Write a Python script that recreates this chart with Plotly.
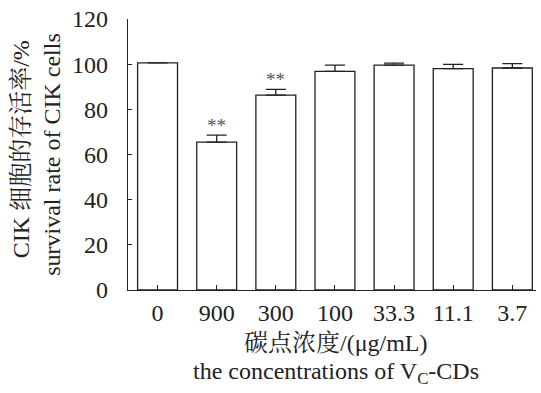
import plotly.graph_objects as go

categories = ["0", "900", "300", "100", "33.3", "11.1", "3.7"]
survival = [100.6, 65.5, 86.3, 96.8, 99.6, 98.0, 98.3]
errors_up = [0.0, 3.1, 2.5, 2.8, 0.9, 1.9, 1.9]
significance = ["", "**", "**", "", "", "", ""]

y_ticks = [0, 20, 40, 60, 80, 100, 120]

FONT = "Liberation Serif, 'Times New Roman', 'Noto Serif CJK SC', 'Noto Sans CJK SC', serif"

fig = go.Figure()
fig.add_trace(go.Bar(
    x=list(range(len(categories))),
    y=survival,
    width=0.675,
    marker=dict(color="white", line=dict(color="#222222", width=1.3)),
    error_y=dict(type="data", array=errors_up, arrayminus=[0] * len(errors_up),
                 symmetric=False, color="#222222", thickness=1.3, width=10),
    showlegend=False,
))

for i, s in enumerate(significance):
    if s:
        fig.add_annotation(x=i, y=survival[i] + errors_up[i], text=s, showarrow=False,
                           yanchor="bottom", yshift=-3,
                           font=dict(family=FONT, size=19, color="#555555"))

fig.update_layout(
    width=541, height=393,
    margin=dict(l=128, r=5, t=19, b=103),
    paper_bgcolor="white", plot_bgcolor="white",
    font=dict(family=FONT, size=24, color="#222222"),
    xaxis=dict(
        range=[-0.5, 6.4],
        tickmode="array", tickvals=list(range(len(categories))), ticktext=categories,
        ticks="inside", ticklen=5, tickwidth=1.2, tickcolor="#222222",
        showline=True, linecolor="#222222", linewidth=1.3,
        showgrid=False, zeroline=False,
        tickfont=dict(family=FONT, size=24, color="#222222"),
        ticklabelstandoff=1,
    ),
    yaxis=dict(
        range=[0, 120],
        tickmode="array", tickvals=y_ticks,
        ticks="inside", ticklen=4, tickwidth=1.2, tickcolor="#222222",
        showline=True, linecolor="#222222", linewidth=1.3,
        showgrid=False, zeroline=False,
        tickfont=dict(family=FONT, size=24, color="#222222"),
        ticklabelstandoff=14,
    ),
)

title_font = dict(family=FONT, size=24, color="#222222")
fig.add_annotation(xref="paper", yref="paper", x=-0.262, y=0.52,
                   xanchor="center", yanchor="middle", textangle=-90,
                   text="CIK 细胞的存活率/%", showarrow=False, font=title_font)
fig.add_annotation(xref="paper", yref="paper", x=-0.188, y=0.50,
                   xanchor="center", yanchor="middle", textangle=-90,
                   text="survival rate of CIK cells", showarrow=False, font=title_font)
fig.add_annotation(xref="paper", yref="paper", x=0.51, y=-0.197,
                   xanchor="center", yanchor="middle",
                   text="碳点浓度/(μg/mL)", showarrow=False, font=title_font)
fig.add_annotation(xref="paper", yref="paper", x=0.51, y=-0.307,
                   xanchor="center", yanchor="middle",
                   text="the concentrations of V<sub>C</sub>-CDs", showarrow=False,
                   font=title_font)

fig.write_html("out.html")
